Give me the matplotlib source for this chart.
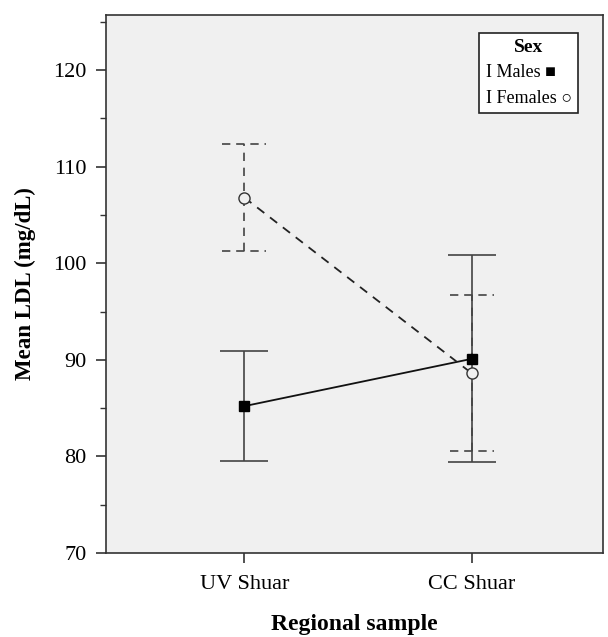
import matplotlib
matplotlib.use("Agg")
import matplotlib.pyplot as plt
from matplotlib.lines import Line2D

plt.rcParams['font.family'] = ['Liberation Serif', 'DejaVu Serif']

categories = ["UV Shuar", "CC Shuar"]
male_mean = [85.2, 90.1]
male_low = [79.5, 79.4]
male_high = [90.9, 100.8]
female_mean = [106.8, 88.6]
female_low = [101.3, 80.6]
female_high = [112.3, 96.7]
legend_title = "Sex"
legend_labels = ["I Males \u25A0", "I Females \u25CB"]

fig = plt.figure(figsize=(6.08, 6.37), dpi=100)
ax = fig.add_axes([0.1743, 0.1319, 0.8175, 0.8446])
ax.set_facecolor('#f0f0f0')

x = list(range(len(categories)))
m_err = [[m - l for m, l in zip(male_mean, male_low)], [h - m for m, h in zip(male_mean, male_high)]]
f_err = [[m - l for m, l in zip(female_mean, female_low)], [h - m for m, h in zip(female_mean, female_high)]]

ax.errorbar(x, male_mean, yerr=m_err, fmt='none', ecolor='#444444', elinewidth=1.2,
            capsize=17, capthick=1.2, zorder=2)
eb_f = ax.errorbar(x, female_mean, yerr=f_err, fmt='none', ecolor='#444444', elinewidth=1.2,
                   capsize=0, zorder=2)
for c in eb_f[2]:
    c.set_linestyle((0, (5, 4)))
# dashed caps for females
for xi, lo, hi in zip(x, female_low, female_high):
    for yv in (lo, hi):
        ax.plot([xi - 0.097, xi + 0.097], [yv, yv], color='#444444', lw=1.2,
                linestyle=(0, (5, 3.5)), zorder=2)

ax.plot(x, male_mean, color='#111111', lw=1.3, linestyle='-', marker='s', markersize=7.5,
        markerfacecolor='black', markeredgecolor='black', zorder=3)
ax.plot(x, female_mean, color='#222222', lw=1.3, linestyle=(0, (5, 4)), marker='o', markersize=8,
        markerfacecolor='#f0f0f0', markeredgecolor='#333333', zorder=3)

ax.set_xlim(-0.608, 1.577)
ax.set_ylim(70, 125.7)
ax.set_xticks(x)
ax.set_xticklabels(categories, fontsize=16)
ax.set_yticks([70, 80, 90, 100, 110, 120])
ax.set_yticks([75, 85, 95, 105, 115, 125], minor=True)
ax.tick_params(axis='y', which='major', labelsize=16, length=7, width=1.2, color='#333333', pad=7)
ax.tick_params(axis='y', which='minor', length=4, width=1.0, color='#333333')
ax.tick_params(axis='x', length=7, width=1.2, color='#333333', pad=9)
for s in ax.spines.values():
    s.set_color('#333333')
    s.set_linewidth(1.2)

ax.set_ylabel('Mean LDL (mg/dL)', fontsize=16.5, fontweight='bold')
ax.yaxis.set_label_coords(-0.14, 0.5)
ax.set_xlabel('Regional sample', fontsize=17, fontweight='bold')
ax.xaxis.set_label_coords(0.5, -0.114)

handles = [Line2D([], [], color='none'), Line2D([], [], color='none')]
leg = ax.legend(handles, legend_labels, title=legend_title, loc='upper right',
                bbox_to_anchor=(0.950, 0.9665), fontsize=13,
                title_fontproperties={'weight': 'bold', 'size': 14}, frameon=True,
                fancybox=False, edgecolor='#222222', facecolor='white', framealpha=1,
                handlelength=0, handletextpad=0, borderpad=0.35, labelspacing=0.45,
                borderaxespad=0)
leg.get_frame().set_linewidth(1.2)

fig.savefig('out.png', dpi=100, facecolor='white')
